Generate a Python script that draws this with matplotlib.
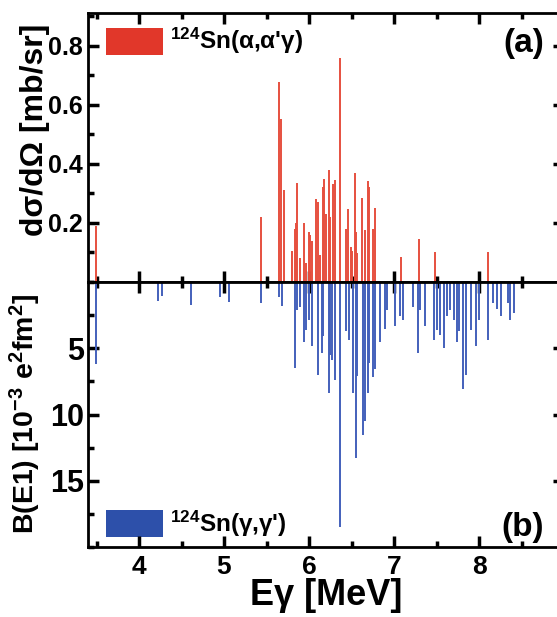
import matplotlib
matplotlib.use('Agg')
import matplotlib.pyplot as plt
from matplotlib.ticker import MultipleLocator, FixedLocator
from matplotlib.patches import Rectangle

plt.rcParams['font.family'] = ['Liberation Sans', 'DejaVu Sans']
plt.rcParams['font.weight'] = 'bold'
plt.rcParams['mathtext.fontset'] = 'custom'
plt.rcParams['mathtext.rm'] = 'Liberation Sans:bold'
plt.rcParams['mathtext.it'] = 'Liberation Sans:bold'
plt.rcParams['mathtext.default'] = 'rm'

# (alpha, alpha' gamma) cross sections [mb/sr]
alpha_E = [3.49, 5.43, 5.645, 5.67, 5.70, 5.80, 5.83, 5.85, 5.86, 5.89, 5.94, 5.96,
           6.00, 6.01, 6.04, 6.08, 6.11, 6.13, 6.16, 6.18, 6.20, 6.23, 6.25, 6.28,
           6.31, 6.36, 6.44, 6.46, 6.49, 6.51, 6.54, 6.55, 6.57, 6.62, 6.66, 6.69,
           6.71, 6.75, 6.78, 7.08, 7.29, 7.48, 8.10]
alpha_xs = [0.19, 0.22, 0.676, 0.55, 0.31, 0.106, 0.18, 0.20, 0.335, 0.08, 0.20, 0.064,
            0.17, 0.16, 0.14, 0.28, 0.27, 0.09, 0.32, 0.35, 0.23, 0.38, 0.22, 0.333,
            0.345, 0.757, 0.18, 0.246, 0.12, 0.105, 0.37, 0.17, 0.097, 0.285, 0.175, 0.34,
            0.32, 0.18, 0.25, 0.083, 0.145, 0.10, 0.10]

# (gamma, gamma') B(E1) strengths [1e-3 e^2 fm^2]
gamma_E = [3.49, 4.22, 4.27, 4.61, 4.95, 5.06, 5.43, 5.645, 5.68, 5.84, 5.86, 5.89,
           5.94, 5.97, 6.00, 6.04, 6.11, 6.15, 6.17, 6.23, 6.25, 6.27, 6.31, 6.36,
           6.44, 6.47, 6.52, 6.55, 6.57, 6.63, 6.66, 6.69, 6.71, 6.75, 6.78, 6.83,
           6.89, 6.92, 7.01, 7.07, 7.11, 7.22, 7.28, 7.31, 7.37, 7.47, 7.51, 7.54,
           7.59, 7.62, 7.66, 7.70, 7.74, 7.77, 7.81, 7.85, 7.90, 7.96, 8.00, 8.11,
           8.17, 8.21, 8.26, 8.34, 8.36, 8.41]
gamma_BE1 = [6.2, 1.4, 1.05, 1.7, 1.1, 1.5, 1.6, 1.1, 1.8, 6.5, 2.1, 1.85,
             4.55, 3.6, 2.85, 4.8, 7.0, 5.35, 4.1, 8.4, 5.5, 5.85, 7.4, 18.5,
             3.7, 4.35, 8.35, 13.3, 7.1, 11.55, 10.5, 8.35, 6.1, 7.2, 6.6, 4.55,
             3.55, 2.1, 3.35, 2.6, 2.9, 1.85, 5.35, 2.1, 3.35, 4.35, 3.6, 4.0,
             5.0, 2.6, 2.1, 2.85, 4.55, 3.7, 8.05, 7.0, 3.6, 4.85, 2.85, 4.4,
             1.6, 2.0, 2.6, 1.6, 2.85, 2.35]

red = '#e1372a'
blue = '#2d50aa'

fig = plt.figure(figsize=(5.57, 6.17), dpi=100)
L, W = 88 / 557, 476 / 557
ax1 = fig.add_axes([L, 1 - 282 / 617, W, 269 / 617])
ax2 = fig.add_axes([L, 1 - 547 / 617, W, 265 / 617], sharex=ax1)

ax1.vlines(alpha_E, 0, alpha_xs, color='#e6503f', linewidth=1.4)
ax2.vlines(gamma_E, 0, gamma_BE1, color='#4360bb', linewidth=1.4)

ax1.set_xlim(3.4, 9.0)
ax1.set_ylim(0, 0.91)
ax2.set_ylim(20, 0)

for ax in (ax1, ax2):
    for s in ax.spines.values():
        s.set_linewidth(2)
    ax.tick_params(which='both', direction='in', top=True, right=True, width=2.5, pad=4)
    ax.tick_params(which='major', length=8)
    ax.tick_params(which='minor', length=4)
    ax.xaxis.set_major_locator(FixedLocator([4, 5, 6, 7, 8]))
    ax.xaxis.set_minor_locator(MultipleLocator(0.5))

ax1.set_yticks([0.2, 0.4, 0.6, 0.8])
ax1.set_yticklabels(['0.2', '0.4', '0.6', '0.8'])
ax1.yaxis.set_minor_locator(MultipleLocator(0.1))
ax1.tick_params(labelbottom=False)
ax1.tick_params(axis='y', labelsize=18)
ax2.set_yticks([5, 10, 15])
ax2.yaxis.set_minor_locator(MultipleLocator(2.5))
ax2.tick_params(axis='y', labelsize=22, pad=3)
ax2.tick_params(axis='x', labelsize=19, pad=6)

ax1.set_ylabel('dσ/dΩ [mb/sr]', fontsize=23, fontweight='bold')
ax1.yaxis.set_label_coords(-0.08, 0.565)
ax2.set_ylabel(r'B(E1) [10$^{-3}$ e$^{2}$fm$^{2}$]', fontsize=20.5, fontweight='bold')
ax2.yaxis.set_label_coords(-0.095, 0.5)
ax2.set_xlabel('Eγ [MeV]', fontsize=26, fontweight='bold', labelpad=-1)

# legend-like boxes and labels
ax1.add_patch(Rectangle((0.038, 0.845), 0.12, 0.1, transform=ax1.transAxes,
                        facecolor=red, edgecolor='none'))
ax1.text(0.172, 0.895, r"$^{124}$Sn(α,α'γ)", transform=ax1.transAxes,
         fontsize=17.5, fontweight='bold', va='center', ha='left')
ax2.add_patch(Rectangle((0.038, 0.038), 0.12, 0.1, transform=ax2.transAxes,
                        facecolor=blue, edgecolor='none'))
ax2.text(0.172, 0.088, r"$^{124}$Sn(γ,γ')", transform=ax2.transAxes,
         fontsize=17.5, fontweight='bold', va='center', ha='left')
ax1.text(0.958, 0.885, '(a)', transform=ax1.transAxes, fontsize=24,
         fontweight='bold', va='center', ha='right')
ax2.text(0.958, 0.075, '(b)', transform=ax2.transAxes, fontsize=24,
         fontweight='bold', va='center', ha='right')

fig.savefig('out.png', dpi=100)
